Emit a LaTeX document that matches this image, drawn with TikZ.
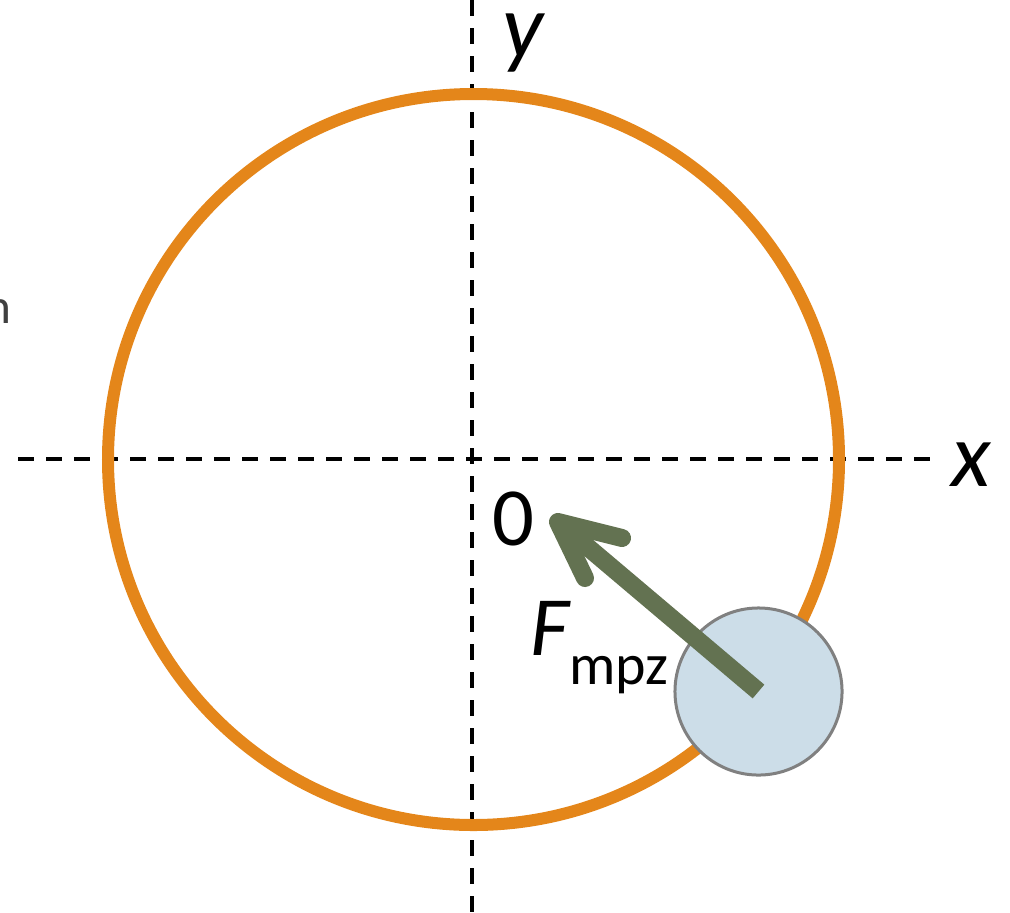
\documentclass[tikz,border=0pt]{standalone}
\usepackage{fontspec}
\setmainfont{Carlito}
\definecolor{orb}{HTML}{E4861A}
\definecolor{fgreen}{HTML}{637251}
\definecolor{ballfill}{HTML}{CCDDE8}
\definecolor{ballline}{HTML}{808080}
\definecolor{lbl}{HTML}{404040}
\tikzset{
  axis/.style={black, line width=4*0.2845pt, dash pattern=on 16*0.2845pt off 12*0.2845pt},
  orbit/.style={orb, line width=12*0.2845pt},
  force/.style={fgreen, line width=18*0.2845pt},
  forcehead/.style={fgreen, line width=18*0.2845pt, line cap=round, line join=round},
  ball/.style={circle, fill=ballfill, draw=ballline, line width=3*0.2845pt, minimum size=167*0.2845pt, inner sep=0pt},
  axlabel/.style={font=\fontsize{26pt}{30pt}\selectfont\itshape, inner sep=0pt},
}
\begin{document}
\begin{tikzpicture}[x=0.01cm,y=-0.01cm]
\useasboundingbox (0,0) rectangle (1010,912);
\coordinate (O) at (473.5,459.5);
\coordinate (xl) at (18,459);
\coordinate (xr) at (935,459);
\coordinate (yt) at (472,0);
\coordinate (yb) at (472,912);
\draw[axis] (xl) -- (xr);
\draw[axis] (yt) -- (yb);
\draw[orbit] (O) circle (365.5);
\node[ball] (m) at (758.5,691.5) {};
\coordinate (tip) at (558,522);
\coordinate (armL) at (585,578);
\coordinate (armR) at (622,538);
\draw[force] (m.center) -- (tip);
\draw[forcehead] (armL) -- (tip) -- (armR);
\node[axlabel, anchor=base] (ylab) at (523,57) {y};
\node[axlabel, anchor=base] (xlab) at (971,486) {x};
\node[font=\fontsize{23.5pt}{27pt}\selectfont, inner sep=0pt, anchor=base] (zero) at (513,545) {0};
\node[inner sep=0pt, anchor=base west] (F) at (530,655) {\fontsize{24pt}{28pt}\selectfont\itshape F\fontsize{16.5pt}{20pt}\upshape\raisebox{-8.5pt}{mpz}};
\node[text=lbl, font=\fontsize{14pt}{17pt}\selectfont, inner sep=0pt, anchor=base east] (cut) at (12,323) {n};
\end{tikzpicture}
\end{document}
